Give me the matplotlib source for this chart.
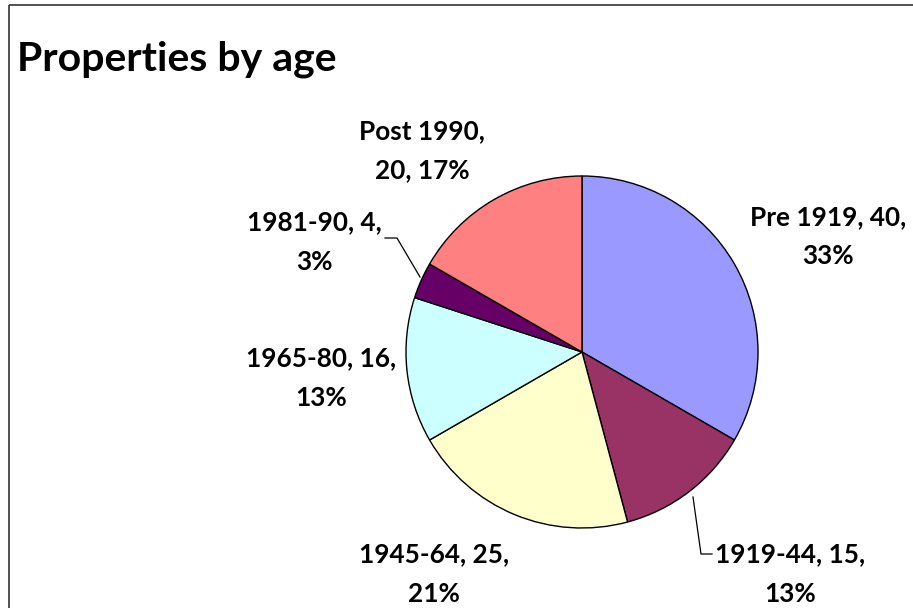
import matplotlib.pyplot as plt
from matplotlib.patches import Rectangle

# data
categories = ['Pre 1919', '1919-44', '1945-64', '1965-80', '1981-90', 'Post 1990']
values = [40, 15, 25, 16, 4, 20]
colors = ['#9999FF', '#993366', '#FFFFCC', '#CCFFFF', '#660066', '#FF8080']
# how many comma-separated parts go on the first label line
first_line_parts = [2, 2, 2, 2, 2, 1]

W, H = 913, 608
fig = plt.figure(figsize=(W / 100, H / 100), dpi=100)
plt.rcParams['font.family'] = ['Lato', 'DejaVu Sans']

# overlay axes in pixel coords (y down) for frame, title, labels
ov = fig.add_axes([0, 0, 1, 1])
ov.set_xlim(0, W)
ov.set_ylim(H, 0)
ov.axis('off')
ov.add_patch(Rectangle((9, 5), W + 20, H + 20, fill=False, edgecolor='#333333', lw=1.2))
ov.text(17, 70, 'Properties by age', fontsize=29.5, fontweight='bold', va='baseline', ha='left')

# pie
cx, cy, r = 582, 352, 176
pax = fig.add_axes([(cx - r) / W, (H - cy - r) / H, 2 * r / W, 2 * r / H])
pax.pie(values, colors=colors, startangle=90, counterclock=False,
        wedgeprops=dict(edgecolor='black', linewidth=1))
pax.set_xlim(-1, 1)
pax.set_ylim(-1, 1)
pax.set_aspect('equal')

total = sum(values)
label_pos = [(828, 237), (790, 574), (434, 574), (321, 378), (314, 242), (422, 151)]
for cat, v, n1, (x, y) in zip(categories, values, first_line_parts, label_pos):
    pct = int(100 * v / total + 0.5)  # round half up like Excel
    parts = [cat, str(v), f'{pct}%']
    txt = ', '.join(parts[:n1]) + ',\n' + ', '.join(parts[n1:])
    ov.text(x, y, txt, fontsize=18.8, fontweight='bold', ha='center', va='center',
            linespacing=1.75)

# leader lines
ov.plot([385, 397, 420], [238, 238, 277], color='black', lw=0.9)
ov.plot([693, 701, 712], [497, 554, 554], color='black', lw=0.9)

fig.savefig('out.png', dpi=100)
